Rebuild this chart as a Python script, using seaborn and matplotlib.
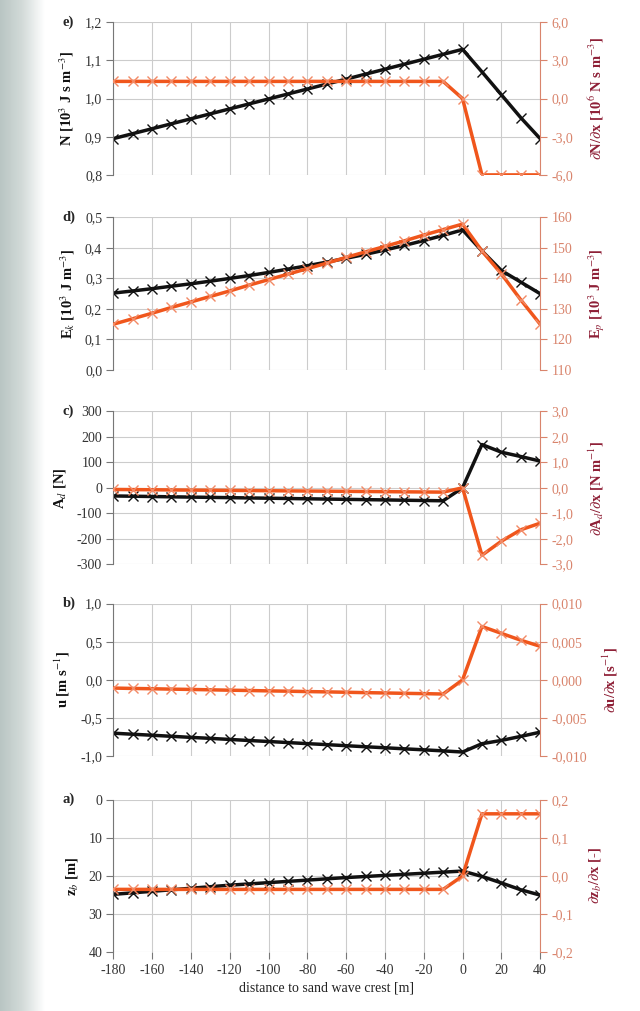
import numpy as np
import pandas as pd
import matplotlib
matplotlib.use("Agg")
import matplotlib.pyplot as plt
from matplotlib.ticker import FuncFormatter, MultipleLocator
import seaborn as sns

# distance to crest [m]
dist = [-180, -170, -160, -150, -140, -130, -120, -110, -100, -90, -80, -70,
        -60, -50, -40, -30, -20, -10, 0, 10, 20, 30, 40]

# e) wave power N and gradient
N_vals = [0.895, 0.908, 0.921, 0.934, 0.947, 0.960, 0.973, 0.986, 0.999, 1.012, 1.025, 1.038,
          1.051, 1.064, 1.077, 1.090, 1.103, 1.116, 1.129, 1.070, 1.010, 0.950, 0.895]
dN_vals = [1.35, 1.35, 1.35, 1.35, 1.35, 1.35, 1.35, 1.35, 1.35, 1.35, 1.35, 1.35,
           1.35, 1.35, 1.35, 1.35, 1.35, 1.35, 0.0, -6.0, -6.0, -6.0, -6.0]

# d) kinetic and potential energy
Ek_vals = [0.252, 0.259, 0.2665, 0.2745, 0.2825, 0.291, 0.300, 0.3095, 0.3195, 0.3305, 0.3415, 0.3535,
           0.366, 0.379, 0.393, 0.408, 0.424, 0.441, 0.459, 0.390, 0.326, 0.288, 0.250]
Ep_vals = [125.0, 126.8, 128.6, 130.5, 132.3, 134.1, 135.9, 137.8, 139.6, 141.4, 143.2, 145.0,
           146.9, 148.7, 150.5, 152.3, 154.2, 156.0, 157.8, 149.0, 141.5, 133.0, 125.0]

# c) drag force and gradient
Ad_vals = [-32.0, -33.1, -34.2, -35.4, -36.5, -37.6, -38.7, -39.8, -40.9, -42.1, -43.2, -44.3,
           -45.4, -46.5, -47.6, -48.8, -49.9, -51.0, 0.0, 170.0, 140.0, 123.0, 105.0]
dAd_vals = [-0.065, -0.071, -0.077, -0.084, -0.090, -0.096, -0.102, -0.108, -0.114, -0.121, -0.127, -0.133,
            -0.139, -0.145, -0.151, -0.158, -0.164, -0.170, 0.0, -2.65, -2.10, -1.65, -1.39]

# b) velocity and gradient
u_vals = [-0.698, -0.712, -0.725, -0.739, -0.753, -0.766, -0.780, -0.794, -0.807, -0.821, -0.835, -0.848,
          -0.862, -0.876, -0.889, -0.903, -0.916, -0.930, -0.945, -0.836, -0.793, -0.740, -0.685]
du_vals = [-0.00107, -0.00112, -0.00116, -0.00121, -0.00125, -0.00130, -0.00135, -0.00139, -0.00144,
           -0.00148, -0.00153, -0.00157, -0.00162, -0.00167, -0.00171, -0.00176, -0.00180, -0.00185,
           0.0, 0.0070, 0.0061, 0.0052, 0.0044]

# a) bed level and slope
zb_vals = [24.8, 24.4, 24.0, 23.6, 23.2, 22.8, 22.4, 22.07, 21.73, 21.4, 21.07, 20.73,
           20.4, 20.12, 19.83, 19.55, 19.27, 18.98, 18.7, 20.1, 21.8, 23.6, 25.0]
dzb_vals = [-0.035, -0.035, -0.035, -0.035, -0.035, -0.035, -0.035, -0.035, -0.035, -0.035, -0.035, -0.035,
            -0.035, -0.035, -0.035, -0.035, -0.035, -0.035, 0.0, 0.163, 0.163, 0.163, 0.163]

sns.set_style("whitegrid")
plt.rcParams["font.family"] = ["Liberation Serif", "DejaVu Serif"]
plt.rcParams["mathtext.fontset"] = "stix"
plt.rcParams["axes.unicode_minus"] = False

BLACK = "#111111"
RED = "#f0561c"
TICK_RED = "#d9846c"
LABEL_RED = "#8e1f36"
GRID = "#cccccc"


def comma(dec):
    return FuncFormatter(lambda v, p: f"{v:.{dec}f}".replace(".", ","))


# (tag, left vals, right vals, left label, right label, left lim, right lim, left step, right step, decimals)
panels = [
    ("e)", N_vals, dN_vals, r"N [10$^3$ J s m$^{-3}$]", r"$\partial$N/$\partial$x [10$^6$ N s m$^{-3}$]",
     (0.8, 1.2), (-6, 6), 0.1, 3.0, (1, 1)),
    ("d)", Ek_vals, Ep_vals, r"E$_k$ [10$^3$ J m$^{-3}$]", r"E$_p$ [10$^3$ J m$^{-3}$]",
     (0.0, 0.5), (110, 160), 0.1, 10, (1, 0)),
    ("c)", Ad_vals, dAd_vals, r"A$_d$ [N]", r"$\partial$A$_d$/$\partial$x [N m$^{-1}$]",
     (-300, 300), (-3, 3), 100, 1.0, (0, 1)),
    ("b)", u_vals, du_vals, r"u [m s$^{-1}$]", r"$\partial$u/$\partial$x [s$^{-1}$]",
     (-1.0, 1.0), (-0.01, 0.01), 0.5, 0.005, (1, 3)),
    ("a)", zb_vals, dzb_vals, r"z$_b$ [m]", r"$\partial$z$_b$/$\partial$x [-]",
     (40, 0), (-0.2, 0.2), 10, 0.1, (0, 1)),
]

fig = plt.figure(figsize=(6.4, 10.11), dpi=100)

# blurred photo strip on the left edge
bg = fig.add_axes([0, 0, 0.07, 1], zorder=-5)
grad = np.linspace(0, 1, 64)[None, :] * np.ones((32, 1))
bg.imshow(grad, aspect="auto", cmap=matplotlib.colors.LinearSegmentedColormap.from_list(
    "strip", ["#b9c5c3", "#d3dbd9", "#ffffff"]), extent=[0, 1, 0, 1])
bg.axis("off")

tops = [0.978, 0.785, 0.593, 0.403, 0.209]
height = 0.151
left, width = 0.177, 0.667

df = pd.DataFrame({"dist": dist})
for (tag, lv, rv, llab, rlab, llim, rlim, lstep, rstep, decs), top in zip(panels, tops):
    ax = fig.add_axes([left, top - height, width, height])
    df["left"] = lv
    df["right"] = rv
    sns.lineplot(data=df, x="dist", y="left", ax=ax, color=BLACK, lw=2.5,
                 marker="x", markersize=7, markeredgewidth=1.0, markeredgecolor=BLACK)
    ax2 = ax.twinx()
    sns.lineplot(data=df, x="dist", y="right", ax=ax2, color=RED, lw=2.5,
                 marker="x", markersize=7, markeredgewidth=1.0, markeredgecolor="#f28a66")

    ax.set_xlim(-180, 40)
    ax.xaxis.set_major_locator(MultipleLocator(20))
    ax.set_ylim(*llim)
    ax.yaxis.set_major_locator(MultipleLocator(lstep))
    ax.yaxis.set_major_formatter(comma(decs[0]))
    ax2.set_ylim(*rlim)
    ax2.yaxis.set_major_locator(MultipleLocator(rstep))
    ax2.yaxis.set_major_formatter(comma(decs[1]))
    ax2.grid(False)

    ax.grid(True, color=GRID, lw=0.8)
    for s in ["top", "bottom", "right"]:
        ax.spines[s].set_visible(False)
    ax.spines["left"].set_color("#777777")
    ax.spines["left"].set_linewidth(0.8)
    for s in ["top", "bottom", "left"]:
        ax2.spines[s].set_visible(False)
    ax2.spines["right"].set_color(TICK_RED)
    ax2.spines["right"].set_linewidth(0.8)

    ax.tick_params(axis="y", left=True, length=5, width=0.8, color="#777777",
                   labelsize=10, labelcolor="#333333", pad=3)
    ax2.tick_params(axis="y", right=True, length=5, width=0.8, color=TICK_RED,
                    labelsize=10, labelcolor=TICK_RED, pad=3)
    ax.set_ylabel(llab, fontsize=10.5, fontweight="bold", color=BLACK, labelpad=6)
    ax2.set_ylabel(rlab, fontsize=10.5, fontweight="bold", color=LABEL_RED, labelpad=10)

    if tag == "a)":
        ax.tick_params(axis="x", bottom=True, length=5, width=0.8, color="#777777",
                       labelsize=10, labelcolor="#333333")
        ax.set_xlabel("distance to sand wave crest [m]", fontsize=10, color="#222222", labelpad=3)
    else:
        ax.tick_params(axis="x", labelbottom=False, bottom=False)
        ax.set_xlabel("")

    fig.text(0.098, top, tag, fontsize=10.5, fontweight="bold", ha="left", va="center")

fig.savefig("out.png", dpi=100)
